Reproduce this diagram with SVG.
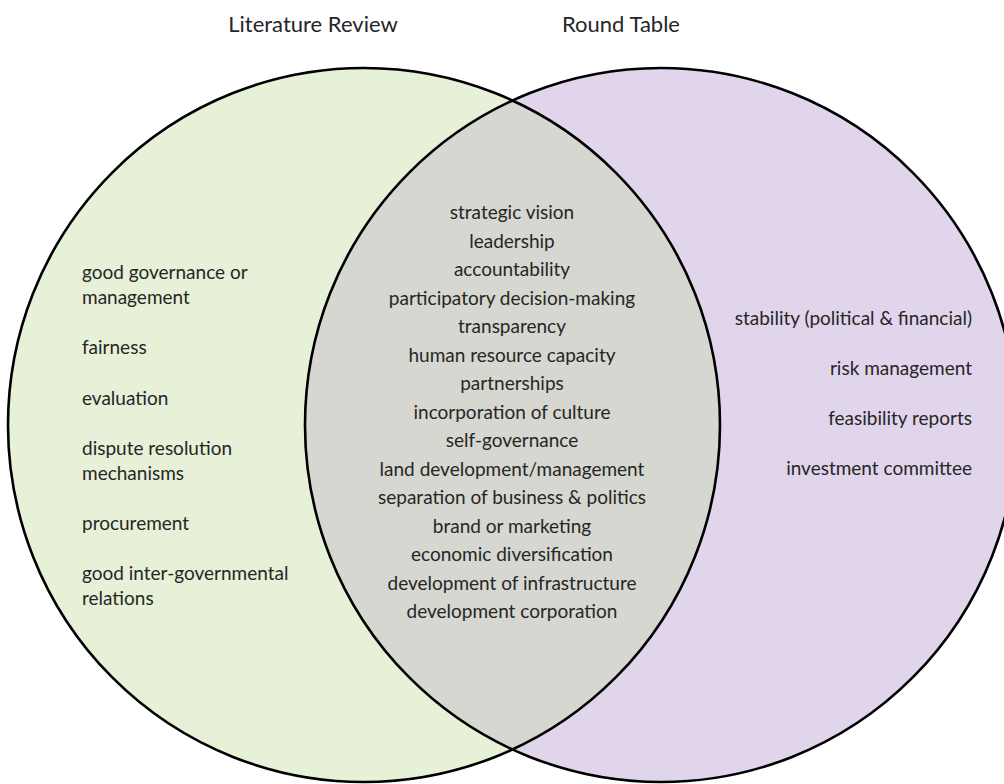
<svg xmlns="http://www.w3.org/2000/svg" width="1004" height="784" viewBox="0 0 1004 784">
  <style>
    text { font-family: Lato, "Liberation Sans", sans-serif; fill: #262626; }
    .title { font-size: 22px; text-anchor: middle; }
    .item { font-size: 19px; }
    .mid { text-anchor: middle; }
    .end { text-anchor: end; }
    .outline { fill: none; stroke: #000; stroke-width: 2.6; }
  </style>
  <defs>
    <clipPath id="clipLeft">
      <ellipse cx="364" cy="425" rx="356" ry="357"/>
    </clipPath>
  </defs>
  <rect width="1004" height="784" fill="#ffffff"/>

  <g id="set-literature-review">
    <ellipse cx="364" cy="425" rx="356" ry="357" fill="#e6f1d8"/>
  </g>
  <g id="set-round-table">
    <ellipse cx="661" cy="425" rx="356" ry="357" fill="#e1d5ec"/>
  </g>
  <g id="set-intersection">
    <ellipse cx="661" cy="425" rx="356" ry="357" fill="#d5d7d0" clip-path="url(#clipLeft)"/>
  </g>
  <g id="outlines">
    <ellipse class="outline" cx="364" cy="425" rx="356" ry="357"/>
    <ellipse class="outline" cx="661" cy="425" rx="356" ry="357"/>
  </g>

  <g id="titles">
    <text class="title" x="313" y="32">Literature Review</text>
    <text class="title" x="621" y="32">Round Table</text>
  </g>

  <g id="literature-items">
    <text class="item" x="82" y="279">good governance or</text>
    <text class="item" x="82" y="303.5">management</text>
    <text class="item" x="82" y="354">fairness</text>
    <text class="item" x="82" y="404.5">evaluation</text>
    <text class="item" x="82" y="455">dispute resolution</text>
    <text class="item" x="82" y="479.5">mechanisms</text>
    <text class="item" x="82" y="530">procurement</text>
    <text class="item" x="82" y="580">good inter-governmental</text>
    <text class="item" x="82" y="604.5">relations</text>
  </g>

  <g id="shared-items">
    <text class="item mid" x="512" y="219">strategic vision</text>
    <text class="item mid" x="512" y="247.5">leadership</text>
    <text class="item mid" x="512" y="276">accountability</text>
    <text class="item mid" x="512" y="304.5">participatory decision-making</text>
    <text class="item mid" x="512" y="333">transparency</text>
    <text class="item mid" x="512" y="361.5">human resource capacity</text>
    <text class="item mid" x="512" y="390">partnerships</text>
    <text class="item mid" x="512" y="418.5">incorporation of culture</text>
    <text class="item mid" x="512" y="447">self-governance</text>
    <text class="item mid" x="512" y="475.5">land development/management</text>
    <text class="item mid" x="512" y="504">separation of business &amp; politics</text>
    <text class="item mid" x="512" y="532.5">brand or marketing</text>
    <text class="item mid" x="512" y="561">economic diversification</text>
    <text class="item mid" x="512" y="589.5">development of infrastructure</text>
    <text class="item mid" x="512" y="618">development corporation</text>
  </g>

  <g id="roundtable-items">
    <text class="item end" x="972" y="325">stability (political &amp; financial)</text>
    <text class="item end" x="972" y="375">risk management</text>
    <text class="item end" x="972" y="425">feasibility reports</text>
    <text class="item end" x="972" y="475">investment committee</text>
  </g>
</svg>
